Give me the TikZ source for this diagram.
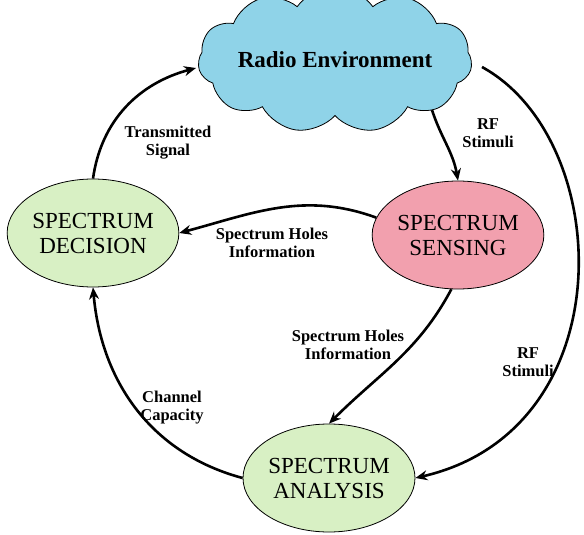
\documentclass[tikz,border=0pt]{standalone}
\usepackage{fontspec}
\setmainfont{Liberation Serif}
\usetikzlibrary{shapes.geometric,shapes.symbols,arrows.meta}

\definecolor{decgreen}{RGB}{216,240,196}
\definecolor{senspink}{RGB}{242,160,174}
\definecolor{skyblue}{RGB}{143,211,232}

\tikzset{
  task/.style={ellipse, draw, thick, align=center, font=\fontsize{23}{25}\selectfont,
    minimum width=167pt, minimum height=108pt, inner sep=0pt},
  lbl/.style={align=center, font=\bfseries\fontsize{16.5}{18}\selectfont},
  flow/.style={black, line width=2.6pt, -{Stealth[length=12pt,width=10pt]}}
}

\begin{document}
\begin{tikzpicture}[x=1pt,y=1pt]
    \useasboundingbox (0,0) rectangle (584,-535);
    \node (env) [cloud, cloud puffs=11, cloud puff arc=110, cloud ignores aspect, draw, thick, fill=skyblue,
       minimum width=274pt, minimum height=146pt, inner sep=0pt, font=\bfseries\fontsize{23}{25}\selectfont]
       at (335,-60) {Radio Environment};
    \coordinate (rfsrc) at (432,-110);
    \coordinate (envin) at (196,-68);
    \coordinate (envout) at (482,-67);
    \node (decision) [task, fill=decgreen] at (93,-233) {SPECTRUM\\DECISION};
    \node (sensing) [task, fill=senspink] at (458,-235) {SPECTRUM\\SENSING};
    \node (analysis) [task, fill=decgreen, minimum width=172pt] at (329,-478) {SPECTRUM\\ANALYSIS};
    % labels
    \node (txsig) [lbl] at (168,-143) {Transmitted\\Signal};
    \node (rf1) [lbl] at (488,-133) {RF\\Stimuli};
    \node (holes1) [lbl] at (272,-243) {Spectrum Holes\\Information};
    \node (holes2) [lbl] at (348,-345) {Spectrum Holes\\Information};
    \node (rf2) [lbl] at (528,-362) {RF\\Stimuli};
    \node (capacity) [lbl] at (172,-408) {Channel\\Capacity};
    % connectors
    \draw [flow] (decision.north) to[out=82,in=195] (envin);
    \draw [flow] (rfsrc) to[out=-72,in=100] (sensing.north);
    \draw [flow] (sensing.168) to[out=160,in=15] (decision.east);
    \draw [flow] (sensing.-97) to[out=-118,in=45] (analysis.north);
    \draw [flow] (envout) .. controls (615,-140) and (625,-430) .. (analysis.east);
    \draw [flow] (analysis.west) to[out=165,in=-85] (decision.south);
\end{tikzpicture}
\end{document}
